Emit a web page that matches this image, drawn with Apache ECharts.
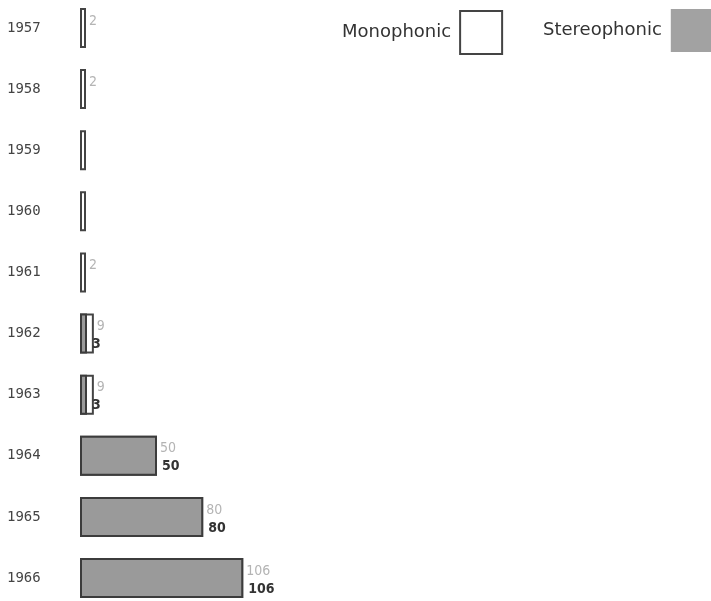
<!DOCTYPE html>
<html><head><meta charset="utf-8">
<script src="https://cdn.jsdelivr.net/npm/echarts@6/dist/echarts.min.js"></script>
<style>html,body{margin:0;padding:0;background:#fff}#c{width:711px;height:601px}</style>
</head><body><div id="c"></div>
<script>
var years = ['1957','1958','1959','1960','1961','1962','1963','1964','1965','1966'];
var mono = [2, 2, 2, 2, 2, 9, 9, 50, 80, 106];
var stereo = [0, 0, 0, 0, 0, 3, 3, 50, 80, 106];
var monoLabelHidden = ['1959', '1960'];

var legendText = {fontFamily: 'DejaVu Sans', fontSize: 18, color: '#333', padding: [6, 4, 0, 0]};
var chart = echarts.init(document.getElementById('c'));
chart.setOption({
  animation: false,
  backgroundColor: '#fff',
  legend: [
    {
      left: 342, top: 10, padding: 0, align: 'right', icon: 'rect',
      itemWidth: 42, itemHeight: 43, textStyle: legendText,
      data: ['Monophonic']
    },
    {
      left: 543, top: 9, padding: 0, align: 'right', icon: 'rect',
      itemWidth: 42, itemHeight: 43, textStyle: legendText,
      data: [{name: 'Stereophonic', itemStyle: {borderWidth: 0, color: '#a2a2a2'}}]
    }
  ],
  grid: {left: 80, width: 616, top: 28, bottom: 23},
  xAxis: {type: 'value', min: 0, max: 400, show: false},
  yAxis: {
    type: 'category', data: years, inverse: true, boundaryGap: false,
    axisLine: {show: false}, axisTick: {show: false}, splitLine: {show: false},
    axisLabel: {align: 'left', margin: 73, fontFamily: 'DejaVu Sans Mono', fontSize: 14, color: '#444'}
  },
  series: [
    {
      name: 'Monophonic', type: 'bar', data: mono, barWidth: 40, barGap: '-100%',
      barMinHeight: 6,
      itemStyle: {color: '#fff', borderColor: '#444', borderWidth: 2},
      label: {
        show: true, position: 'right', distance: 3, offset: [0, -7],
        fontFamily: 'DejaVu Sans Condensed', fontSize: 14, color: '#b4b4b4',
        formatter: function (p) { return monoLabelHidden.indexOf(p.name) >= 0 ? '' : String(p.value); }
      }
    },
    {
      name: 'Stereophonic', type: 'bar',
      data: stereo.map(function (v) { return v === 0 ? null : v; }),
      barWidth: 40, barMinHeight: 7,
      itemStyle: {color: '#9a9a9a', borderColor: '#3c3c3c', borderWidth: 2},
      label: {
        show: true, position: 'right', distance: 5, offset: [0, 11],
        fontFamily: 'DejaVu Sans Condensed', fontSize: 14, fontWeight: 'bold', color: '#333',
        formatter: function (p) { return String(p.value); }
      }
    }
  ]
});
</script></body></html>
